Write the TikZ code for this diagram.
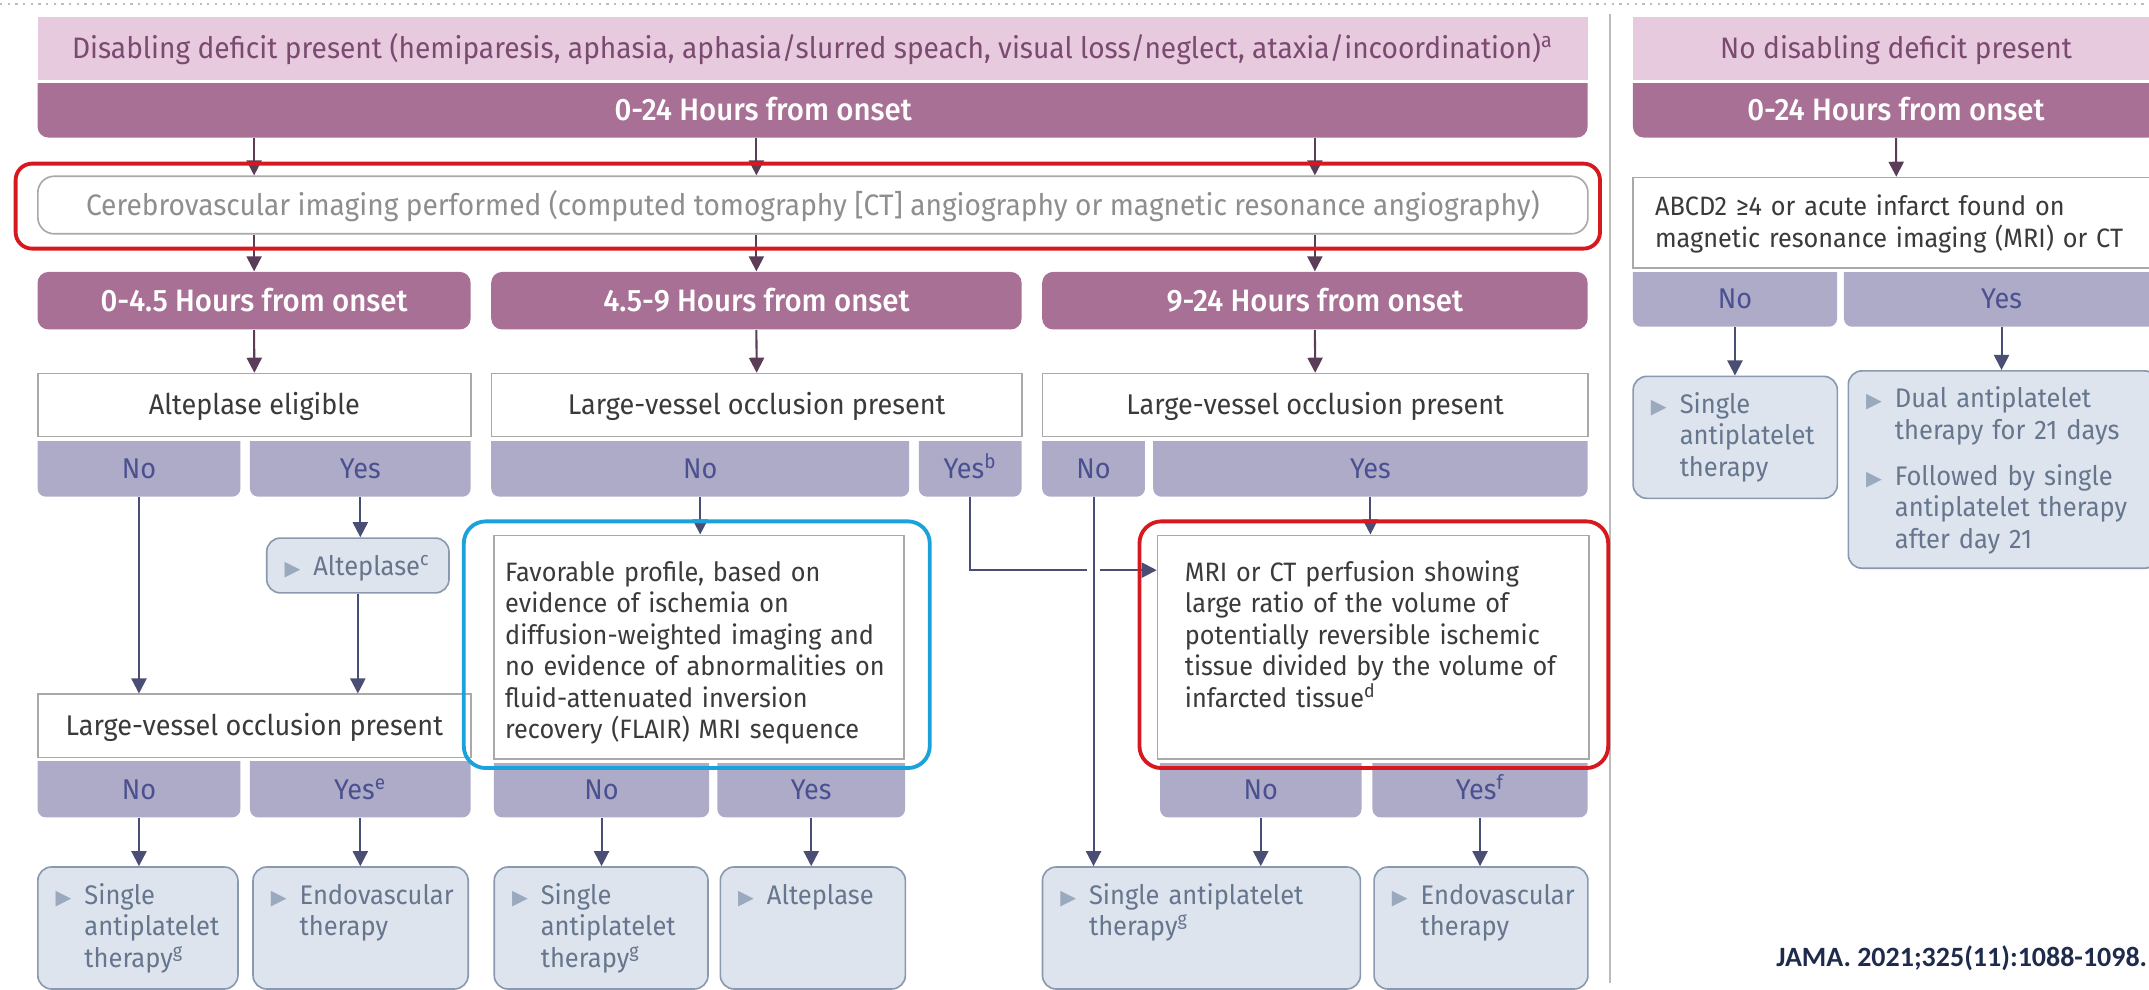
\documentclass[tikz,border=0pt]{standalone}
\usepackage{fontspec}
\setmainfont{Fira Sans}[FakeStretch=0.95,BoldFont={Fira Sans Medium}]
\newfontfamily\symfont{DejaVu Sans}
\newfontfamily\jamafont{Carlito}
\usetikzlibrary{arrows.meta,positioning}

\definecolor{hdrpink}{HTML}{E8CADF}
\definecolor{hdrtext}{HTML}{7B4A70}
\definecolor{mauve}{HTML}{A87094}
\definecolor{plum}{HTML}{5C3D58}
\definecolor{boxline}{HTML}{A9A9A9}
\definecolor{dectext}{HTML}{3A3A3A}
\definecolor{imgtext}{HTML}{8E8E8E}
\definecolor{choicefill}{HTML}{ADABC7}
\definecolor{choicetext}{HTML}{4B5190}
\definecolor{navyarrow}{HTML}{4A4E74}
\definecolor{outfill}{HTML}{DDE4ED}
\definecolor{outline}{HTML}{8A99AF}
\definecolor{outtext}{HTML}{66768E}
\definecolor{bullet}{HTML}{9AA9BE}
\definecolor{hlred}{HTML}{D7191F}
\definecolor{hlblue}{HTML}{1CA2DB}
\definecolor{sepgrey}{HTML}{BBBBBB}
\definecolor{jama}{HTML}{1F2B4D}

% bullet item for the treatment boxes
\newcommand{\tri}[1]{\makebox[10.5pt][l]{\symfont\color{bullet}\fontsize{7.5}{7.5}\selectfont ▶}%
  \parbox[t]{\dimexpr\linewidth-10.5pt\relax}{\raggedright #1}}

\tikzset{
  hdrbar/.style={anchor=north west, fill=hdrpink, text=hdrtext, inner sep=0pt, minimum height=23pt,
    text height=7.4pt, text depth=0pt, font=\fontsize{10.8}{12}\selectfont,
    preaction={draw=white, line width=2.4pt}},
  onsetbar/.style={anchor=north west, fill=mauve, text=white, rounded corners=4pt, inner sep=0pt,
    text height=21.2pt, text depth=6.3pt, font=\bfseries\fontsize{11.3}{12}\selectfont},
  windowbar/.style={anchor=north west, fill=mauve, text=white, rounded corners=4pt, inner sep=0pt,
    minimum height=21pt, text height=7.8pt, text depth=0pt, font=\bfseries\fontsize{11.3}{12}\selectfont},
  imgbox/.style={anchor=north west, draw=boxline, line width=0.6pt, fill=white, text=imgtext,
    rounded corners=6pt, inner sep=0pt, minimum height=21pt, text height=7.4pt, text depth=0pt,
    font=\fontsize{10.8}{12}\selectfont},
  choice/.style={anchor=north west, fill=choicefill, text=choicetext, rounded corners=3pt,
    inner sep=0pt, text height=19.5pt, text depth=6.5pt, font=\fontsize{10.4}{12}\selectfont},
  decbox/.style={anchor=north west, draw=boxline, line width=0.6pt, fill=white, text=dectext,
    inner sep=0pt, minimum height=23pt, text height=7.15pt, text depth=0pt,
    font=\fontsize{10.4}{12}\selectfont, preaction={draw=white, line width=3pt}},
  notebox/.style={decbox, align=left, minimum height=0pt, text height=16.75pt,
    font=\fontsize{9.7}{11.5}\selectfont},
  outbox/.style={anchor=north west, draw=outline, line width=0.6pt, fill=outfill, text=outtext,
    rounded corners=5pt, align=left, text width=#1, inner xsep=6.5pt, inner ysep=0pt,
    text height=13.5pt, text depth=31pt, font=\fontsize{9.8}{11.5}\selectfont},
  hilite/.style={anchor=north west, draw=#1, line width=1.4pt, inner sep=0pt, rounded corners=8pt},
  lead/.style={->, draw=plum, line width=0.75pt},
  flow/.style={->, draw=navyarrow, line width=0.75pt},
}

\begin{document}
\begin{tikzpicture}[x=0.5pt,y=-0.5pt,font=\fontsize{10}{11.5}\selectfont,
    >={Triangle[length=5.5pt,width=5.5pt]}]
  \useasboundingbox (0,0) rectangle (1568,722);

  % frame
  \draw[sepgrey, line width=0.8pt, dotted] (0,3) -- (1568,3);
  \draw[sepgrey, line width=0.8pt] (1175,10) -- (1175,717);

  % disabling deficit
  \node[onsetbar, minimum width=565.5pt] (onsetL) at (27,45) {\hspace*{-36pt}0-24 Hours from onset};
  \node[hdrbar, minimum width=565.5pt] (hdrL) at (27,12) {Disabling deficit present (hemiparesis, aphasia, aphasia/slurred speach, visual loss/neglect, ataxia/incoordination)\textsuperscript{a}};
  \node[imgbox, minimum width=565.5pt] (imgL) at (27,128) {Cerebrovascular imaging performed (computed tomography [CT] angiography or magnetic resonance angiography)};
  \node[windowbar, minimum width=158pt] (win1) at (27,198) {0-4.5 Hours from onset};
  \node[windowbar, minimum width=193.5pt] (win2) at (358,198) {4.5-9 Hours from onset};
  \node[windowbar, minimum width=199pt] (win3) at (760,198) {9-24 Hours from onset};

  \node[choice, minimum width=74pt] (no1) at (27,310) {No};
  \node[choice, minimum width=80.5pt] (yes1) at (182,310) {Yes};
  \node[choice, minimum width=152.5pt] (no2) at (358,310) {No};
  \node[choice, minimum width=37.5pt] (yes2) at (670,310) {Yes\textsuperscript{b}};
  \node[choice, minimum width=37.5pt] (no3) at (760,310) {No};
  \node[choice, minimum width=158.5pt] (yes3) at (841,310) {Yes};
  \node[decbox, minimum width=158pt] (elig) at (27,272) {Alteplase eligible};
  \node[decbox, minimum width=193.5pt] (lvo2) at (358,272) {Large-vessel occlusion present};
  \node[decbox, minimum width=199pt] (lvo3) at (760,272) {Large-vessel occlusion present};

  % 0-4.5 h
  \node[outbox=53.5pt, text depth=6.5pt] (alt1) at (194,392) {\tri{Alteplase\textsuperscript{c}}};
  \node[choice, minimum width=74pt] (no4) at (27,544) {No};
  \node[choice, minimum width=80.5pt] (yes4) at (182,544) {Yes\textsuperscript{e}};
  \node[decbox, minimum width=158pt] (lvo1) at (27,506) {Large-vessel occlusion present};
  \node[outbox=60pt] (sapt1) at (27,632) {\tri{Single\\antiplatelet\\therapy\textsuperscript{g}}};
  \node[outbox=65.5pt] (evt1) at (184,632) {\tri{Endovascular\\therapy}};

  % 4.5-9 h
  \node[choice, minimum width=78.5pt] (no5) at (360,544) {No};
  \node[choice, minimum width=68.5pt] (yes5) at (523,544) {Yes};
  \node[notebox, text width=141.5pt, inner xsep=4pt, text depth=64.75pt] (flair) at (360,390)
    {Favorable profile, based on\\evidence of ischemia on\\diffusion-weighted imaging and\\no evidence of abnormalities on\\fluid-attenuated inversion\\recovery (FLAIR) MRI sequence};
  \node[outbox=65pt] (sapt2) at (360,632) {\tri{Single\\antiplatelet\\therapy\textsuperscript{g}}};
  \node[outbox=54.5pt] (alt2) at (525,632) {\tri{Alteplase}};

  % 9-24 h
  \node[choice, minimum width=73.5pt] (no6) at (846,544) {No};
  \node[choice, minimum width=78.5pt] (yes6) at (1001,544) {Yes\textsuperscript{f}};
  \node[notebox, text width=137.5pt, inner xsep=10pt, text depth=64.75pt] (perf) at (844,390)
    {MRI or CT perfusion showing\\large ratio of the volume of\\potentially reversible ischemic\\tissue divided by the volume of\\infarcted tissue\textsuperscript{d}};
  \node[outbox=103pt] (sapt3) at (760,632) {\tri{Single antiplatelet\\therapy\textsuperscript{g}}};
  \node[outbox=65pt] (evt3) at (1002,632) {\tri{Endovascular\\therapy}};

  % no disabling deficit
  \node[onsetbar, minimum width=192pt] (onsetR) at (1191,45) {0-24 Hours from onset};
  \node[hdrbar, minimum width=192pt] (hdrR) at (1191,12) {No disabling deficit present};
  \node[choice, minimum width=74.5pt] (no7) at (1191,186) {No};
  \node[choice, minimum width=115pt] (yes7) at (1345,186) {Yes};
  \node[notebox, text width=176pt, inner xsep=8pt, text height=14pt, text depth=19pt] (abcd) at (1191,129)
    {ABCD2 ≥4 or acute infarct found on\\magnetic resonance imaging (MRI) or CT};
  \node[outbox=61.5pt] (sapt4) at (1191,274) {\tri{Single\\antiplatelet\\therapy}};
  \node[outbox=100pt, text depth=58.5pt] (dapt) at (1348,270)
    {\tri{Dual antiplatelet\\therapy for 21 days}\par\vspace{6pt}\tri{Followed by single\\antiplatelet therapy\\after day 21}};

  % arrows
  \draw[lead] (onsetL.south -| win1.north) -- (imgL.north -| win1.north);
  \draw[lead] (onsetL.south -| win2.north) -- (imgL.north -| win2.north);
  \draw[lead] (onsetL.south -| win3.north) -- (imgL.north -| win3.north);
  \draw[lead] (imgL.south -| win1.north) -- (win1.north);
  \draw[lead] (imgL.south -| win2.north) -- (win2.north);
  \draw[lead] (imgL.south -| win3.north) -- (win3.north);
  \draw[lead] (win1.south) -- (elig.north);
  \draw[lead] (win2.south) -- (lvo2.north);
  \draw[lead] (win3.south) -- (lvo3.north);
  \draw[lead] (onsetR.south) -- (abcd.north);

  \draw[flow] (no1.south) -- (no1.south |- lvo1.north);
  \draw[flow] (yes1.south) -- (yes1.south |- alt1.north);
  \draw[flow] (alt1.south) -- (alt1.south |- lvo1.north);
  \draw[flow] (no4.south) -- (no4.south |- sapt1.north);
  \draw[flow] (yes4.south) -- (yes4.south |- evt1.north);
  \draw[flow] (no2.south) -- (no2.south |- flair.north);
  \draw[flow] (no5.south) -- (no5.south |- sapt2.north);
  \draw[flow] (yes5.south) -- (yes5.south |- alt2.north);
  \draw[flow] (yes3.south) -- (yes3.south |- perf.north);
  \draw[flow] (no6.south) -- (no6.south |- sapt3.north);
  \draw[flow] (yes6.south) -- (yes6.south |- evt3.north);
  \draw[flow] (no7.south) -- (no7.south |- sapt4.north);
  \draw[flow] (yes7.south) -- (yes7.south |- dapt.north);
  \draw[flow] (yes2.south) |- ([yshift=-13pt]perf.north west);
  \draw[flow, preaction={draw=white, line width=5pt, -}] (no3.south) -- (no3.south |- sapt3.north);

  % highlights
  \node[hilite=hlred, minimum width=578pt, minimum height=31pt, rounded corners=6pt] (ring1) at (10,118) {};
  \node[hilite=hlblue, minimum width=170pt, minimum height=90pt] (ring2) at (337,379) {};
  \node[hilite=hlred, minimum width=171pt, minimum height=90pt] (ring3) at (830,379) {};

  \node[anchor=base east, font=\jamafont\bfseries\fontsize{10.2}{12}\selectfont, text=jama, inner sep=0pt] (cite) at (1567,705) {JAMA. 2021;325(11):1088-1098.};
\end{tikzpicture}
\end{document}
